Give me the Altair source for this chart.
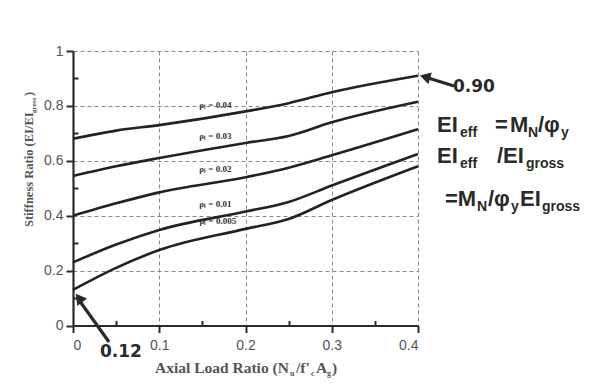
import altair as alt
import pandas as pd

# ---- data ----
axial_load = [0, 0.05, 0.1, 0.2, 0.25, 0.3, 0.4]
rho_004 = [0.68, 0.71, 0.73, 0.78, 0.81, 0.85, 0.91]
rho_003 = [0.545, 0.58, 0.61, 0.665, 0.69, 0.74, 0.815]
rho_002 = [0.40, 0.445, 0.485, 0.54, 0.575, 0.62, 0.715]
rho_001 = [0.23, 0.295, 0.348, 0.415, 0.45, 0.51, 0.625]
rho_0005 = [0.13, 0.21, 0.275, 0.352, 0.388, 0.457, 0.58]
series_names = ["0.04", "0.03", "0.02", "0.01", "0.005"]
series_vals = [rho_004, rho_003, rho_002, rho_001, rho_0005]

label_x = [0.165, 0.165, 0.165, 0.165, 0.168]
label_y = [0.788, 0.675, 0.554, 0.427, 0.366]

x_major = [0, 0.1, 0.2, 0.3, 0.4]
x_minor = [0.05, 0.15, 0.25, 0.35]
y_major = [0, 0.2, 0.4, 0.6, 0.8, 1.0]
y_minor = [0.1, 0.3, 0.5, 0.7, 0.9]

rows = []
for name, vals in zip(series_names, series_vals):
    for x, y in zip(axial_load, vals):
        rows.append({"rho": name, "x": x, "y": y})
df = pd.DataFrame(rows)

lab_df = pd.DataFrame({
    "x": label_x, "y": label_y,
    "t": ["\u03c1\u2097 = " + n for n in series_names],
})

# ---- layout ----
W, H = 345, 274.5
PL, PT = 65, 43
OX, OY = 8 + PL, 8 + PT
CANVAS_W, CANVAS_H = 599, 375

xs = alt.Scale(domain=[0, 0.4], nice=False, zero=False)
ys = alt.Scale(domain=[0, 1], nice=False, zero=False)

AX = "#2b2b2b"
LBL = "#555555"

x_axis = alt.Axis(values=x_major, format="~g", title=None, grid=True,
                  gridDash=[4, 3], gridColor="#8a8a8a", gridWidth=1,
                  domainColor=AX, domainWidth=2.2, tickColor=AX, tickWidth=2,
                  tickSize=7, labelFont="Liberation Sans", labelFontSize=14,
                  labelColor=LBL, labelPadding=6)
y_axis = alt.Axis(values=y_major, format="~g", title=None, grid=True,
                  gridDash=[4, 3], gridColor="#8a8a8a", gridWidth=1,
                  domainColor=AX, domainWidth=2.2, tickColor=AX, tickWidth=2,
                  tickSize=7, labelFont="Liberation Sans", labelFontSize=14,
                  labelColor=LBL, labelPadding=3)

lines = alt.Chart(df).mark_line(color="#222222", strokeWidth=2.6,
                                interpolate="monotone").encode(
    x=alt.X("x:Q", scale=xs, axis=x_axis),
    y=alt.Y("y:Q", scale=ys, axis=y_axis),
    detail="rho:N",
)

# minor ticks point inward: opposite-side axes pulled onto the main axes
minor = alt.Chart(df).mark_point(opacity=0).encode(
    x=alt.X("x:Q", scale=xs, axis=alt.Axis(values=x_minor, orient="top", offset=-H,
                                           labels=False, title=None, grid=False,
                                           domain=False, tickColor=AX, tickWidth=2,
                                           tickSize=5)),
    y=alt.Y("y:Q", scale=ys, axis=alt.Axis(values=y_minor, orient="right", offset=-W,
                                           labels=False, title=None, grid=False,
                                           domain=False, tickColor=AX, tickWidth=2,
                                           tickSize=5)),
)

curve_labels = alt.Chart(lab_df).mark_text(
    font="Liberation Serif", fontWeight="bold", fontSize=9, color="#333333",
    align="center", baseline="alphabetic", dy=-1,
).encode(x=alt.X("x:Q", scale=xs, axis=None),
         y=alt.Y("y:Q", scale=ys, axis=None), text="t:N")

# ---- annotation text pieces (page pixel positions, baselines) ----
def piece(t, px, py, fs):
    return {"t": t, "px": px - OX, "py": py - OY, "fs": fs}

x_title = [
    piece("Axial Load Ratio (N", 155, 373, 15.5),
    piece("u", 290, 376, 8),
    piece("/f'", 296, 373, 15.5),
    piece("c", 311, 376, 8),
    piece("A", 316, 373, 15.5),
    piece("g", 327, 376, 8),
    piece(")", 332, 373, 15.5),
]
formula = [
    piece("EI", 437, 132, 22), piece("eff", 460, 137, 14),
    piece("=", 495, 132, 22), piece("M", 510, 132, 22), piece("N", 528, 137, 14),
    piece("/\u03c6", 538, 132, 22), piece("y", 561, 137, 14),
    piece("EI", 437, 163, 22), piece("eff", 460, 168, 14),
    piece("/EI", 497, 163, 22), piece("gross", 526, 168, 14),
    piece("=M", 445, 206, 22), piece("N", 477, 211, 14),
    piece("/\u03c6", 488, 206, 22), piece("y", 511, 211, 14),
    piece("EI", 520, 206, 22), piece("gross", 542, 211, 14),
]
numbers = [piece("0.90", 453, 92, 17), piece("0.12", 100, 357, 17)]

def text_layer(pieces, font, weight, color, angle=0):
    return alt.Chart(pd.DataFrame(pieces)).mark_text(
        font=font, fontWeight=weight, color=color, align="left",
        baseline="alphabetic", angle=angle,
    ).encode(
        x=alt.X("px:Q", scale=None, axis=None), y=alt.Y("py:Q", scale=None, axis=None),
        size=alt.Size("fs:Q", scale=None, legend=None), text="t:N",
    )

y_title = [
    piece("Stiffness Ratio (EI/EI", 33, 227, 12.5),
    piece("gross", 36, 113, 7),
    piece(")", 33, 96, 12.5),
]

xt = text_layer(x_title, "Liberation Serif", "bold", LBL)
yt = text_layer(y_title, "Liberation Serif", "bold", LBL, angle=270)
ft = text_layer(formula, "Liberation Sans", "bold", "#2a2a2a")
nt = text_layer(numbers, "DejaVu Sans", "bold", "#2a2a2a")

# ---- arrows ----
arrow_df = pd.DataFrame([
    {"a": "top", "o": 0, "px": 454 - OX, "py": 86 - OY},
    {"a": "top", "o": 1, "px": 425 - OX, "py": 77 - OY},
    {"a": "bot", "o": 0, "px": 109 - OX, "py": 342 - OY},
    {"a": "bot", "o": 1, "px": 79 - OX, "py": 300 - OY},
])
arrow_lines = alt.Chart(arrow_df).mark_line(color="#2a2a2a", strokeWidth=3.2).encode(
    x=alt.X("px:Q", scale=None, axis=None), y=alt.Y("py:Q", scale=None, axis=None),
    detail="a:N", order="o:Q",
)
head_df = pd.DataFrame([
    {"px": 425 - OX, "py": 77 - OY, "ang": 286},
    {"px": 79 - OX, "py": 298 - OY, "ang": 323},
])
heads = alt.Chart(head_df).mark_point(shape="triangle-up", filled=True, size=150,
                                      color="#2a2a2a", opacity=1).encode(
    x=alt.X("px:Q", scale=None, axis=None), y=alt.Y("py:Q", scale=None, axis=None),
    angle=alt.Angle("ang:Q", scale=None),
)

chart = alt.layer(lines, minor, curve_labels, xt, yt, ft, nt, arrow_lines, heads).resolve_axis(
    x="independent", y="independent"
).properties(
    width=W, height=H,
    autosize=alt.AutoSizeParams(type="none"),
    padding={"left": PL, "top": PT, "right": CANVAS_W - PL - W, "bottom": CANVAS_H - PT - H},
    background="white",
).configure_view(stroke=None)

chart.save("out.html", embed_options={"renderer": "svg", "actions": False})
